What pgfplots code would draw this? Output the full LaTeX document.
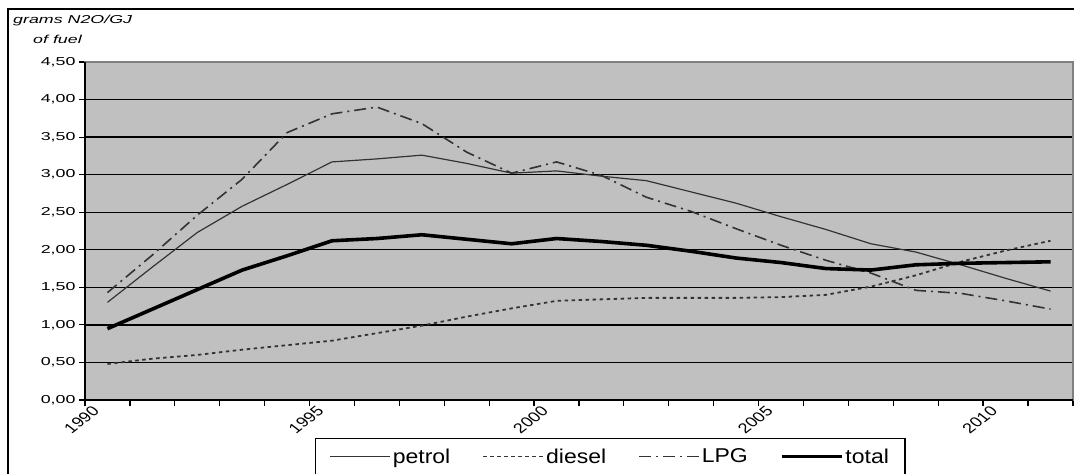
\documentclass[border=0pt]{standalone}
\usepackage{pgfplots}
\pgfplotsset{compat=1.18}
\usepackage{pgfplotstable}
\usepackage{fontspec}
\setmainfont{Liberation Sans}
\newfontfamily\tickfont[FakeStretch=1.55]{Liberation Sans}
\newfontfamily\legfont[FakeStretch=1.15]{Liberation Sans}
\definecolor{plotbg}{HTML}{C0C0C0}
\definecolor{ln}{HTML}{333333}
\definecolor{frame}{HTML}{808080}
\pgfplotstableread{
year petrol diesel lpg total
1990.5 1.30 0.48 1.43 0.95
1991.5 1.77 0.55 1.93 1.21
1992.5 2.23 0.60 2.46 1.47
1993.5 2.58 0.67 2.94 1.73
1994.5 2.87 0.73 3.56 1.92
1995.5 3.17 0.79 3.81 2.12
1996.5 3.21 0.89 3.90 2.15
1997.5 3.26 0.99 3.68 2.20
1998.5 3.15 1.11 3.30 2.14
1999.5 3.02 1.22 3.02 2.08
2000.5 3.05 1.32 3.17 2.15
2001.5 2.98 1.34 2.99 2.11
2002.5 2.92 1.36 2.70 2.06
2003.5 2.77 1.36 2.51 1.98
2004.5 2.62 1.36 2.28 1.89
2005.5 2.44 1.37 2.06 1.83
2006.5 2.27 1.40 1.86 1.75
2007.5 2.08 1.51 1.69 1.73
2008.5 1.97 1.66 1.46 1.80
2009.5 1.80 1.84 1.42 1.82
2010.5 1.62 1.99 1.32 1.83
2011.5 1.45 2.12 1.21 1.84
}\data
\begin{document}
\begin{tikzpicture}[x=1pt,y=1pt]
\useasboundingbox (0,0) rectangle (1074,-474);
\draw[line width=2.5pt] (8,-490) -- (8,-9) -- (1090,-9);
\node[anchor=base west, inner sep=0, font=\tickfont\itshape\fontsize{11.5}{13}\selectfont] at (13,-23) {grams N2O/GJ};
\node[anchor=base west, inner sep=0, font=\tickfont\itshape\fontsize{11.5}{13}\selectfont] at (33,-43) {of fuel};
\begin{axis}[
  at={(85pt,-400pt)}, anchor=south west,
  scale only axis, width=988pt, height=338pt,
  xmin=1990, xmax=2012, ymin=0, ymax=4.5,
  axis background/.style={fill=plotbg},
  axis line style={draw=frame, line width=1.5pt},
  xtick={1990,1995,2000,2005,2010},
  xticklabels={1990,1995,2000,2005,2010},
  minor xtick={1990,...,2012},
  ytick={0,0.5,...,4.5},
  tick pos=left, tick align=outside,
  major tick length=6pt, minor tick length=6pt,
  every tick/.style={black, line width=1.2pt},
  ymajorgrids, major grid style={black, line width=1.3pt},
  yticklabel style={font=\tickfont\fontsize{11.5}{13}\selectfont,
    /pgf/number format/.cd, fixed, fixed zerofill, precision=2, use comma, assume math mode=true},
  xticklabel style={font=\fontsize{14}{16}\selectfont, xscale=1.3, rotate=45, anchor=east, inner sep=1pt, xshift=5pt, yshift=-8pt},
  legend style={at={(0.2328,-0.1124)}, anchor=north west, legend columns=4,
    draw=black, line width=1.2pt, fill=white, inner xsep=14pt, inner ysep=8pt,
    font=\legfont\fontsize{20}{23}\selectfont,
    /tikz/every even column/.append style={column sep=30pt}},
  legend image code/.code={\draw[#1] (0pt,0pt) -- (60pt,0pt);},
  clip=false,
]
\addplot[ln, line width=1.2pt] table[x=year, y=petrol] {\data};
\addlegendentry{petrol}
\addplot[ln, line width=1.8pt, dash pattern=on 3.5pt off 3.5pt] table[x=year, y=diesel] {\data};
\addlegendentry{diesel}
\addplot[ln, line width=1.6pt, dash pattern=on 12pt off 5pt on 2pt off 5pt] table[x=year, y=lpg] {\data};
\addlegendentry{LPG}
\addplot[black, line width=3.6pt] table[x=year, y=total] {\data};
\addlegendentry{total}
\draw[black, line width=2pt] (rel axis cs:0,1) -- (rel axis cs:0,0) -- (rel axis cs:1,0);
\end{axis}
\end{tikzpicture}
\end{document}
